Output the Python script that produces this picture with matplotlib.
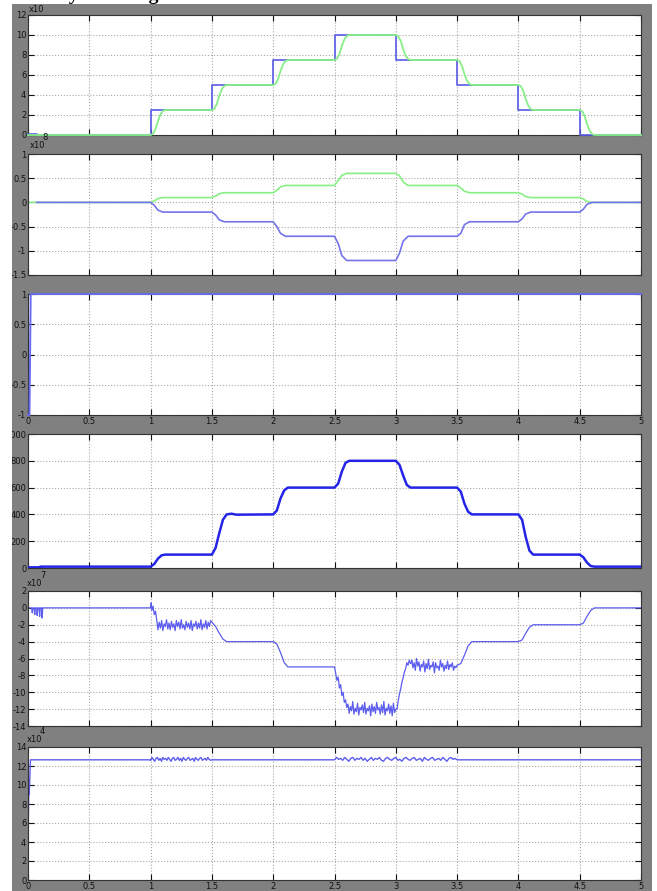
#Simulink scope screenshot: six stacked traces
import numpy as np
import matplotlib.pyplot as plt
from matplotlib.patches import Rectangle

W, H = 657, 891

# panel 1 : reference (blue step) and response (green)
t1_ref = [0, 0.07, 0.07, 1, 1, 1.5, 1.5, 2, 2, 2.5, 2.5, 3, 3, 3.5, 3.5, 4, 4, 4.5, 4.5, 5]
y1_ref = [0.15, 0.15, 0, 0, 2.5, 2.5, 5, 5, 7.5, 7.5, 10, 10, 7.5, 7.5, 5, 5, 2.5, 2.5, 0, 0]
t1_out = [0,
          1.00, 1.02, 1.04, 1.06, 1.08, 1.10, 1.12,
          1.50, 1.52, 1.54, 1.56, 1.58, 1.60, 1.62,
          2.00, 2.02, 2.04, 2.06, 2.08, 2.10, 2.12,
          2.50, 2.52, 2.54, 2.56, 2.58, 2.60, 2.62,
          3.00, 3.02, 3.04, 3.06, 3.08, 3.10, 3.12,
          3.50, 3.52, 3.54, 3.56, 3.58, 3.60, 3.62,
          4.00, 4.02, 4.04, 4.06, 4.08, 4.10, 4.12,
          4.50, 4.52, 4.54, 4.56, 4.58, 4.60, 4.62,
          5]
y1_out = [0,
          0, 0.12, 0.6, 1.4, 2.05, 2.4, 2.5,
          2.5, 2.62, 3.1, 3.9, 4.55, 4.9, 5,
          5, 5.12, 5.6, 6.4, 7.05, 7.4, 7.5,
          7.5, 7.62, 8.1, 8.9, 9.55, 9.9, 10,
          10, 9.88, 9.4, 8.6, 7.95, 7.6, 7.5,
          7.5, 7.38, 6.9, 6.1, 5.45, 5.1, 5,
          5, 4.88, 4.4, 3.6, 2.95, 2.6, 2.5,
          2.5, 2.38, 1.9, 1.1, 0.45, 0.1, 0,
          0]

# panel 2 : two diverging traces
t2 = [0, 1.0, 1.03, 1.06, 1.1, 1.5, 1.53, 1.56, 1.6, 2.0, 2.03, 2.06, 2.1,
      2.5, 2.53, 2.56, 2.6, 3.0, 3.03, 3.06, 3.1, 3.5, 3.53, 3.56, 3.6,
      4.0, 4.03, 4.06, 4.1, 4.5, 4.53, 4.56, 4.6, 5]
y2_green = [0, 0, .03, .08, .1, .1, .13, .18, .2, .2, .25, .32, .35,
            .35, .45, .56, .6, .6, .55, .42, .35, .35, .3, .23, .2,
            .2, .17, .12, .1, .1, .07, .02, 0, 0]
y2_blue = [0, 0, -.06, -.16, -.2, -.2, -.26, -.36, -.4, -.4, -.5, -.64, -.7,
           -.7, -.85, -1.1, -1.2, -1.2, -1.05, -.8, -.7, -.7, -.64, -.46, -.4,
           -.4, -.34, -.24, -.2, -.2, -.14, -.04, 0, 0]

# panel 3
t3 = [0, 0.012, 0.022, 5]
y3 = [-1, -1, 1, 1]

# panel 4
t4 = [0, 0.1, 0.1, 1.0, 1.03, 1.06, 1.09, 1.12,
      1.5, 1.53, 1.56, 1.59, 1.62, 1.66, 1.7,
      2.0, 2.03, 2.06, 2.09, 2.12,
      2.5, 2.53, 2.56, 2.59, 2.62,
      3.0, 3.03, 3.06, 3.09, 3.12,
      3.5, 3.53, 3.56, 3.59, 3.62,
      4.0, 4.03, 4.06, 4.09, 4.12,
      4.5, 4.53, 4.56, 4.59, 4.62, 5]
y4 = [5, 5, 10, 10, 30, 70, 95, 100,
      100, 150, 260, 360, 400, 405, 398,
      400, 430, 520, 580, 600,
      600, 630, 720, 785, 800,
      800, 770, 690, 620, 600,
      600, 570, 480, 420, 400,
      400, 360, 230, 130, 100,
      100, 80, 40, 15, 10, 10]

# panel 5 (x1e7)
t5_start = [0, 0.03, 0.035, 0.04, 0.05, 0.055, 0.06, 0.07, 0.075, 0.08, 0.09,
            0.095, 0.1, 0.11, 0.115, 0.12, 0.13, 1.0, 1.005, 1.01, 1.02, 1.03, 1.04]
y5_start = [0, 0, -0.6, 0, 0, -0.8, 0, 0, -0.9, 0, 0,
            -1.0, 0, 0, -1.2, 0, 0, 0, 0.6, -0.3, 0.2, -0.8, -0.4]
y5_noise1 = [-1.4, -2.6, -1.7, -2.4, -1.5, -2.7, -1.9, -2.2, -1.4, -2.5, -1.8, -2.6,
             -1.6, -2.3, -1.9, -2.7, -1.5, -2.2, -1.7, -2.5, -1.4, -2.4, -2.0, -2.6,
             -1.6, -2.3, -1.8, -2.5, -1.5, -2.7, -1.9, -2.2, -1.6, -2.5, -1.8, -2.4,
             -1.4, -2.6, -1.9, -2.3, -1.5, -2.5, -1.7, -2.2, -1.5, -1.7]
t5_mid = [1.53, 1.56, 1.59, 1.62, 2.0, 2.03, 2.06, 2.09, 2.12, 2.5]
y5_mid = [-2.2, -3.0, -3.7, -4.0, -4.0, -4.3, -5.3, -6.5, -7.0, -7.0]
y5_drop = [-7.0, -7.8, -8.6, -8.2, -9.5, -9.1, -10.4, -10.0, -11.2, -10.9, -11.8]
y5_noise2 = [-11.4, -12.5, -11.7, -12.2, -11.1, -12.6, -11.9, -12.3, -11.3, -12.7,
             -11.8, -12.1, -11.5, -12.4, -11.2, -12.6, -11.9, -12.2, -11.6, -12.8,
             -11.4, -12.3, -11.7, -12.5, -11.2, -12.1, -11.8, -12.6, -11.5, -12.4,
             -11.1, -12.7, -11.9, -12.2, -11.4, -12.5, -11.6, -12.8, -11.3, -12.4, -12.0]
y5_rise = [-12.0, -11.0, -10.2, -9.6, -8.8, -8.3, -7.6, -7.2, -6.5, -6.8, -6.2, -6.6, -6.4]
y5_noise3 = [-6.2, -7.1, -6.5, -7.4, -6.0, -6.9, -6.4, -7.5, -6.7, -7.0, -6.3, -7.6,
             -6.6, -7.2, -6.1, -7.3, -6.8, -7.0, -6.4, -7.7, -6.5, -7.1, -6.9, -7.4,
             -6.2, -7.0, -6.6, -7.5, -6.8, -7.2, -6.3, -7.3, -6.7, -7.0, -6.5, -7.4,
             -6.9, -7.1, -6.8]
t5_end = [3.53, 3.56, 3.59, 3.62, 4.0, 4.03, 4.06, 4.09, 4.12, 4.5, 4.53, 4.56, 4.59, 4.62, 5]
y5_end = [-6.6, -5.6, -4.5, -4.0, -4.0, -3.8, -3.0, -2.3, -2.0, -2.0, -1.8, -1.0, -0.3, 0, 0]

# panel 6 (x1e4)
t6_start = [0, 0.003, 0.006, 0.01, 0.02, 1.0]
y6_start = [0, 6.5, 9.0, 9.0, 12.65, 12.65]
y6_noise1 = [12.6, 12.9, 12.7, 12.5, 12.8, 12.9, 12.6, 12.8, 12.5, 12.9, 12.7, 12.8,
             12.6, 12.9, 12.7, 12.5, 12.8, 12.9, 12.6, 12.7, 12.9, 12.6, 12.8, 12.5,
             12.9, 12.7, 12.6, 12.8, 12.9, 12.6, 12.7, 12.8, 12.5, 12.9, 12.7, 12.6,
             12.8, 12.9, 12.6, 12.7, 12.8, 12.6, 12.9, 12.7, 12.6, 12.65]
y6_noise2 = [12.65, 12.9, 12.7, 12.8, 12.6, 12.9, 12.7, 12.5, 12.8, 12.9, 12.6, 12.8,
             12.7, 12.9, 12.6, 12.8, 12.5, 12.7, 12.9, 12.6, 12.8, 12.7, 12.9, 12.6,
             12.5, 12.8, 12.9, 12.7, 12.6, 12.8, 12.9, 12.6, 12.7, 12.5, 12.8, 12.9,
             12.7, 12.6, 12.8, 12.9, 12.6, 12.7, 12.8, 12.5, 12.9, 12.7, 12.6, 12.8,
             12.9, 12.6, 12.7, 12.8, 12.6, 12.9, 12.7, 12.5, 12.8, 12.9, 12.7, 12.8, 12.65]
t6_end = [3.5, 5]
y6_end = [12.65, 12.65]

x_ticks = [0, 0.5, 1, 1.5, 2, 2.5, 3, 3.5, 4, 4.5, 5]
x_labels = ['0', '0.5', '1', '1.5', '2', '2.5', '3', '3.5', '4', '4.5', '5']

y_ticks = [[0, 2, 4, 6, 8, 10, 12],
           [-1.5, -1, -0.5, 0, 0.5, 1],
           [-1, -0.5, 0, 0.5, 1],
           [0, 200, 400, 600, 800, 1000],
           [-14, -12, -10, -8, -6, -4, -2, 0, 2],
           [0, 2, 4, 6, 8, 10, 12, 14]]
y_labels = [['0', '2', '4', '6', '8', '10', '12'],
            ['-1.5', '-1', '-0.5', '0', '0.5', '1'],
            ['-1', '-0.5', '0', '0.5', '1'],
            ['0', '200', '400', '600', '800', '1000'],
            ['-14', '-12', '-10', '-8', '-6', '-4', '-2', '0', '2'],
            ['0', '2', '4', '6', '8', '10', '12', '14']]

# pixel boxes (top, bottom) of each axes
rows = [(15, 135), (154, 275), (294, 415), (434, 568), (591, 726), (747, 880)]
left, right = 28, 641

blue = '#5a5ae6'
green = '#86f086'

fig = plt.figure(figsize=(W / 100, H / 100), dpi=100)
fig.patch.set_facecolor('white')
fig.add_artist(Rectangle((12 / W, 0), 640 / W, 1 - 4 / H, transform=fig.transFigure,
                         facecolor='#808080', edgecolor='none', zorder=-5))

axes = []
for i, (top, bot) in enumerate(rows):
    ax = fig.add_axes([left / W, 1 - bot / H, (right - left) / W, (bot - top) / H])
    ax.set_facecolor('white')
    ax.set_xlim(0, 5)
    ax.set_ylim(y_ticks[i][0], y_ticks[i][-1])
    ax.set_xticks(x_ticks)
    if i in (2, 5):
        ax.set_xticklabels(x_labels)
    else:
        ax.set_xticklabels([])
    ax.set_yticks(y_ticks[i])
    ax.set_yticklabels(y_labels[i])
    ax.tick_params(direction='in', top=True, right=True, length=4, width=0.8,
                   labelsize=6, pad=1.2, colors='#111111')
    ax.grid(True, linestyle=':', color='#a8a8a8', linewidth=0.8)
    for s in ax.spines.values():
        s.set_linewidth(0.8)
        s.set_color('#333333')
    axes.append(ax)

ax1, ax2, ax3, ax4, ax5, ax6 = axes

ax1.plot(t1_ref, y1_ref, color=blue, lw=1.2, clip_on=False, zorder=3)
ax1.plot(t1_out, y1_out, color=green, lw=1.3, clip_on=False, zorder=3)

ax2.plot(t2, y2_green, color=green, lw=1.2)
t2b = [0.07] + t2[1:]
ax2.plot(t2b, y2_blue, color='#7474e8', lw=1.2)

ax3.plot(t3, y3, color='#6a6aee', lw=1.4, clip_on=False, zorder=3)

ax4.plot(t4, y4, color='#2424e6', lw=1.8, zorder=3)

t5 = (t5_start + list(np.linspace(1.05, 1.5, len(y5_noise1))) + t5_mid
      + list(np.linspace(2.5, 2.6, len(y5_drop))) + list(np.linspace(2.61, 3.0, len(y5_noise2)))
      + list(np.linspace(3.01, 3.13, len(y5_rise))) + list(np.linspace(3.13, 3.5, len(y5_noise3)))
      + t5_end)
y5 = (y5_start + y5_noise1 + y5_mid + y5_drop + y5_noise2 + y5_rise + y5_noise3 + y5_end)
ax5.plot(t5, y5, color='#5c5cee', lw=0.9)

t6 = (t6_start + list(np.linspace(1.0, 1.5, len(y6_noise1))) + [2.5]
      + list(np.linspace(2.5, 3.5, len(y6_noise2))) + t6_end)
y6 = y6_start + y6_noise1 + [12.65] + y6_noise2 + y6_end
ax6.plot(t6, y6, color='#5c5cee', lw=1.0)

# exponent labels
def ptext(x, y, s, size=6.5):
    fig.text(x / W, 1 - y / H, s, fontsize=size, ha='left', va='center', color='#111111')

ptext(29, 9, 'x10', 6)
ptext(30, 146, 'x10', 6)
ptext(42, 138, '8', 6)
ptext(27, 583, 'x10', 6)
ptext(40, 575, '7', 6)
ptext(27, 739, 'x10', 6)
ptext(40, 731, '4', 6)

# white margin on the left (crops the screenshot)
fig.add_artist(Rectangle((0, 0), 12 / W, 1, transform=fig.transFigure,
                         facecolor='white', edgecolor='none', zorder=20))

# bottom of the caption line, cut off at the top edge
fig.text(12 / W, 1.0, 'Velocity Tracking', fontsize=14, fontweight='bold',
         family='Liberation Serif', va='baseline', ha='left', zorder=25)

fig.savefig('out.png', dpi=100)
